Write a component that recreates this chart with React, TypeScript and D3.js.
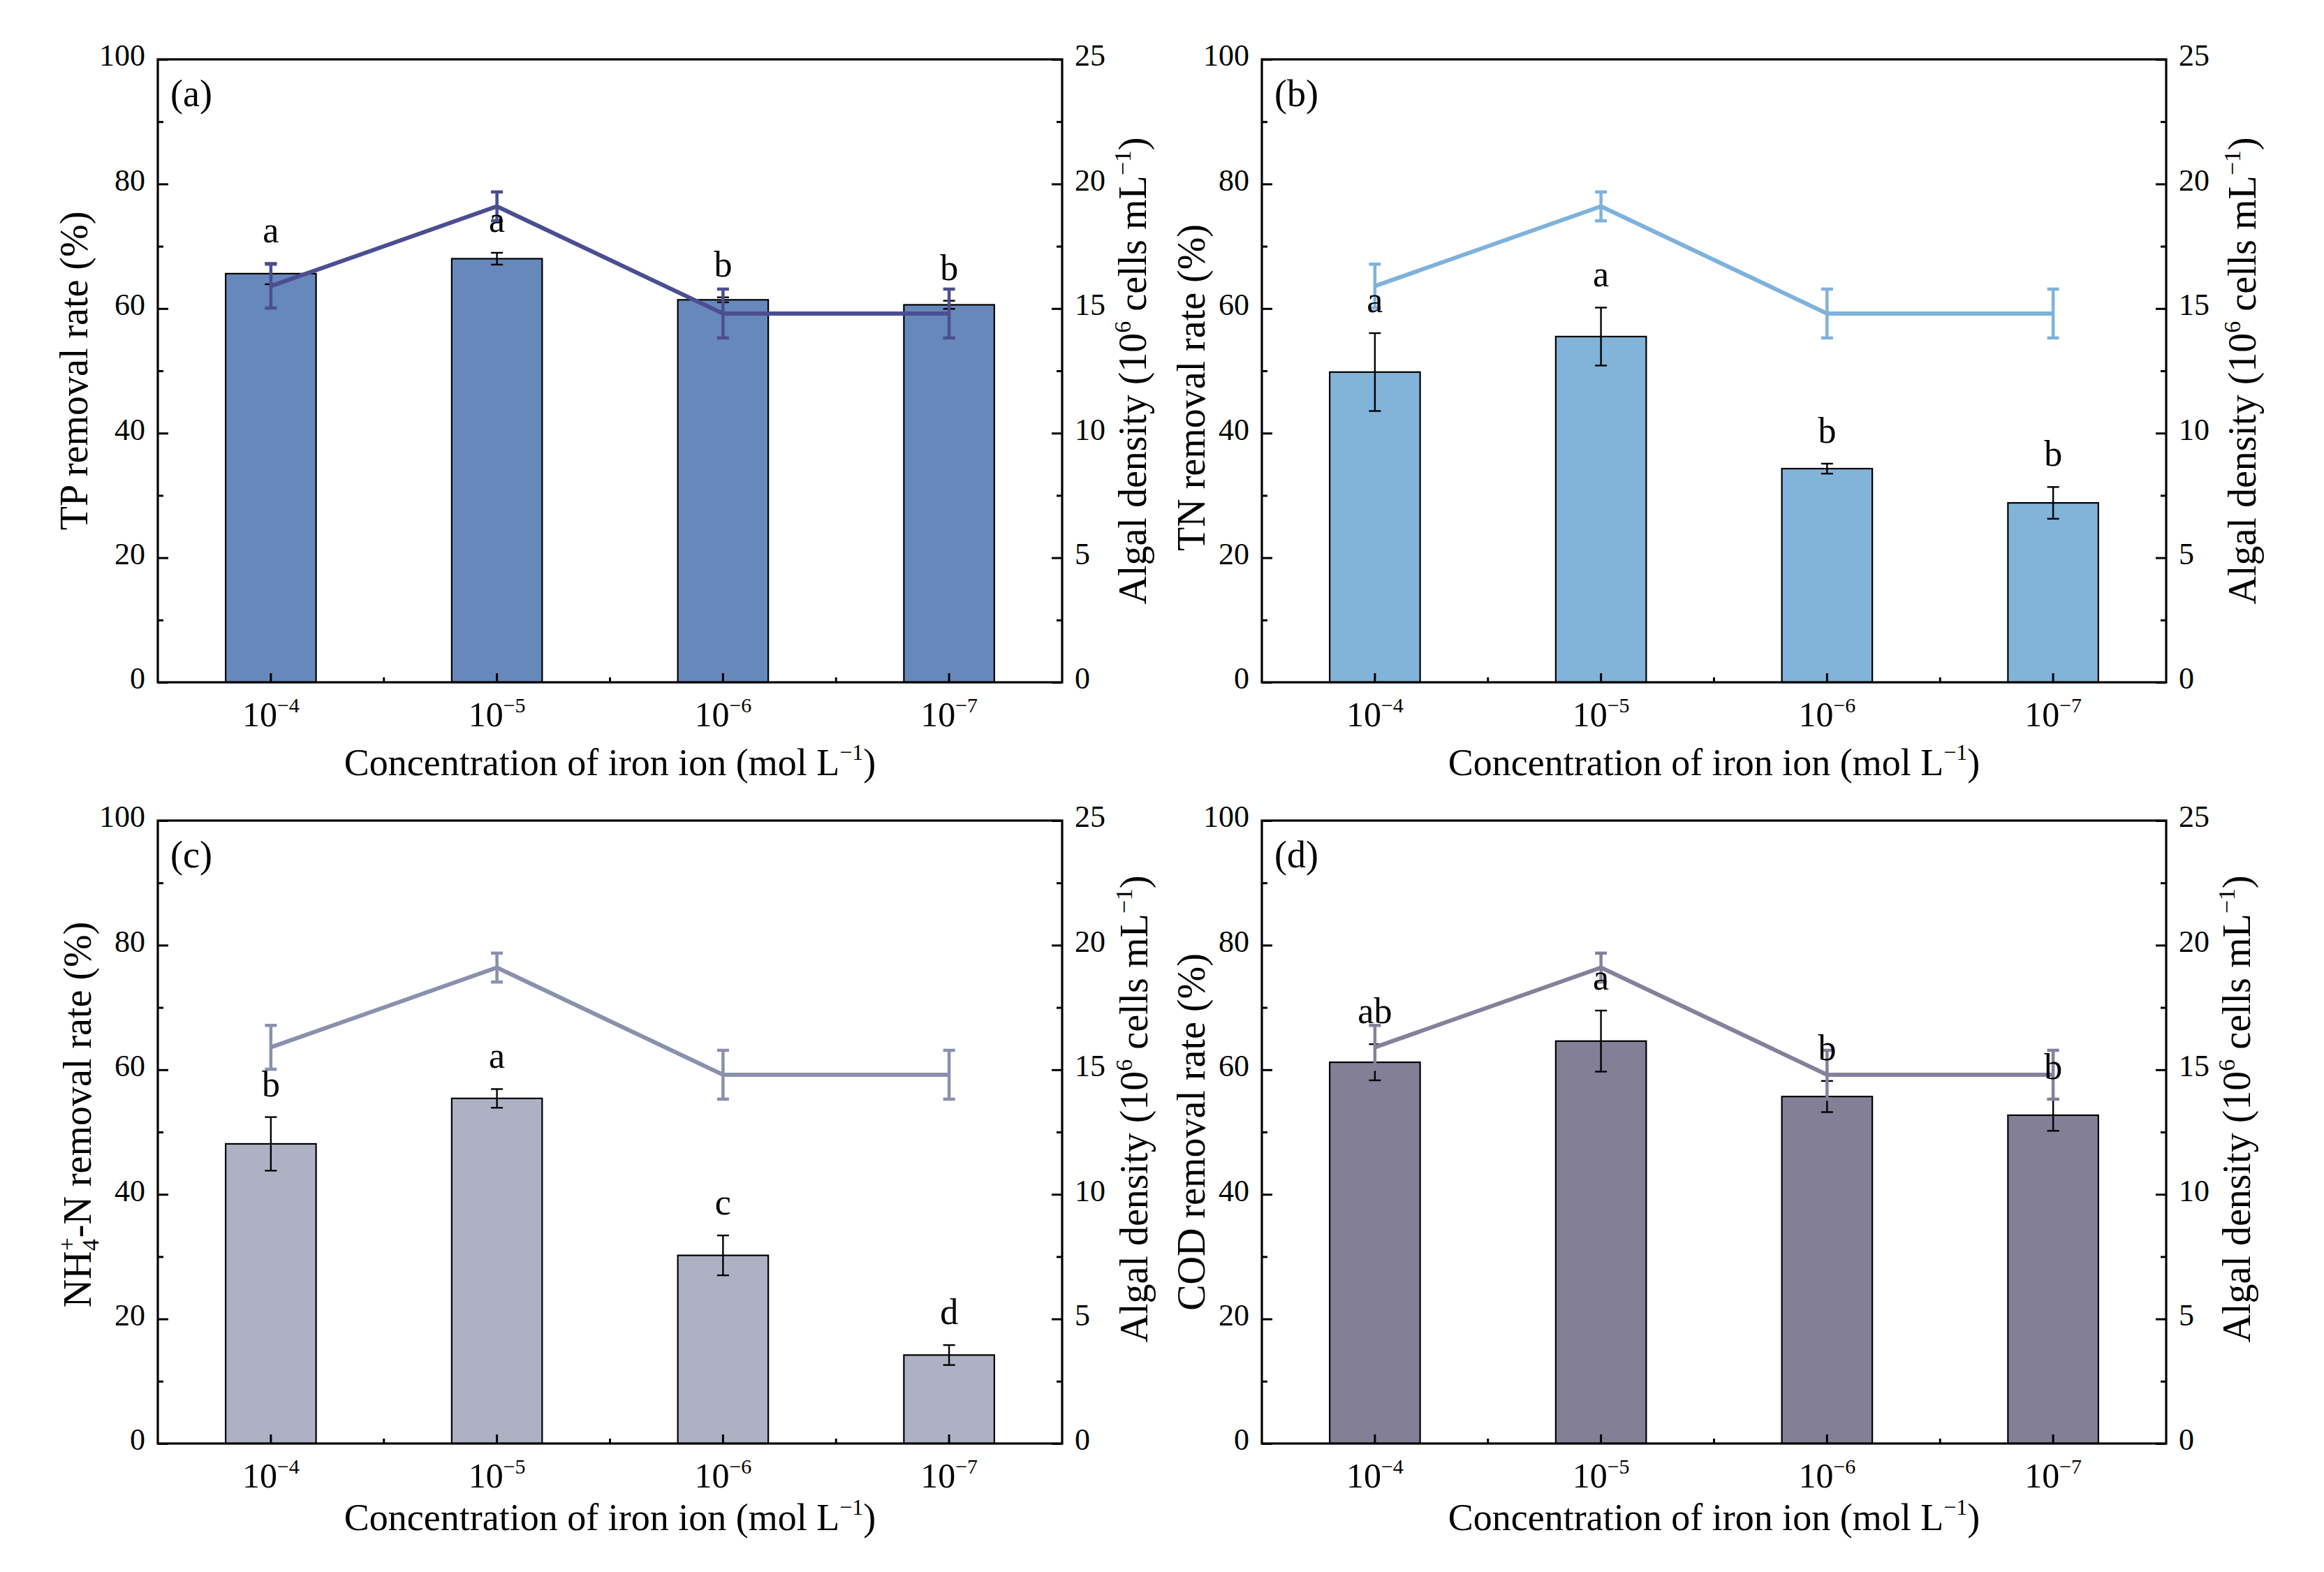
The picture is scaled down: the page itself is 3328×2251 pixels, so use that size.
import React, { useEffect, useRef } from 'react';
import * as d3 from 'd3';

// iron ion concentrations (exponent of 10, mol/L)
const exponents = ['−4', '−5', '−6', '−7'];

// removal rates (%) with error and significance letters
const tpRemoval = [65.6, 68.0, 61.4, 60.6];
const tpErr = [1.7, 0.95, 0.4, 0.65];
const tpLetters = ['a', 'a', 'b', 'b'];

const tnRemoval = [49.8, 55.5, 34.3, 28.8];
const tnErr = [6.25, 4.65, 0.8, 2.55];
const tnLetters = ['a', 'a', 'b', 'b'];

const nh4Removal = [48.1, 55.4, 30.2, 14.2];
const nh4Err = [4.3, 1.5, 3.2, 1.6];
const nh4Letters = ['b', 'a', 'c', 'd'];

const codRemoval = [61.2, 64.6, 55.7, 52.7];
const codErr = [2.9, 4.9, 2.5, 2.5];
const codLetters = ['ab', 'a', 'b', 'b'];

// algal density (10^6 cells/mL), same in every panel
const algalDensity = [15.9, 19.1, 14.8, 14.8];
const algalErr = [0.88, 0.58, 0.98, 0.98];

const leftTicks = [0, 20, 40, 60, 80, 100];
const leftMinor = [10, 30, 50, 70, 90];
const rightTicks = [0, 5, 10, 15, 20, 25];
const rightMinor = [2.5, 7.5, 12.5, 17.5, 22.5];

const W = 1295;
const H = 892;
const FONT = '"Liberation Serif", "Times New Roman", serif';

type Panel = {
    tag: string;
    x0: number;
    y0: number;
    values: number[];
    errs: number[];
    letters: string[];
    bar: string;
    line: string;
    title: string;
    leftX: number;
    leftDy: number;
    rightX: number;
    rightDy: number;
    xTitleY: number;
};

const panels: Panel[] = [
    { tag: '(a)', x0: 226, y0: 85, values: tpRemoval, errs: tpErr, letters: tpLetters, bar: '#6688BB', line: '#4B4E91', title: 'TP', leftX: -101, leftDy: 0, rightX: 120, rightDy: 0, xTitleY: 133 },
    { tag: '(b)', x0: 1807, y0: 85, values: tnRemoval, errs: tnErr, letters: tnLetters, bar: '#82B3D9', line: '#7EB2DC', title: 'TN', leftX: -82, leftDy: 24, rightX: 128, rightDy: 0, xTitleY: 133 },
    { tag: '(c)', x0: 226, y0: 1175, values: nh4Removal, errs: nh4Err, letters: nh4Letters, bar: '#AEB1C3', line: '#8991AD', title: 'NH4', leftX: -96, leftDy: -25, rightX: 122, rightDy: -33, xTitleY: 124 },
    { tag: '(d)', x0: 1807, y0: 1175, values: codRemoval, errs: codErr, letters: codLetters, bar: '#837F97', line: '#85819B', title: 'COD', leftX: -82, leftDy: 0, rightX: 120, rightDy: -33, xTitleY: 124 },
];

function drawPanel(svg: d3.Selection<SVGSVGElement, unknown, null, undefined>, p: Panel) {
    const g = svg.append('g').attr('transform', `translate(${p.x0},${p.y0})`);

    const x = d3.scaleBand().domain(exponents).range([0, W]).padding(0);
    const yL = d3.scaleLinear().domain([0, 100]).range([H, 0]);
    const yR = d3.scaleLinear().domain([0, 25]).range([H, 0]);
    const cx = (i: number) => x(exponents[i])! + x.bandwidth() / 2;
    const barW = x.bandwidth() * 0.4;
    const cap = 8.5;

    // bars
    g.selectAll('rect.bar')
        .data(p.values)
        .enter()
        .append('rect')
        .attr('x', (d, i) => cx(i) - barW / 2)
        .attr('y', (d) => yL(d))
        .attr('width', barW)
        .attr('height', (d) => H - yL(d))
        .attr('fill', p.bar)
        .attr('stroke', '#000')
        .attr('stroke-width', 2.2);

    // bar error bars
    p.values.forEach((v, i) => {
        const e = p.errs[i];
        const eg = g.append('g').attr('stroke', '#000').attr('stroke-width', 2.4);
        eg.append('line').attr('x1', cx(i)).attr('x2', cx(i)).attr('y1', yL(v - e)).attr('y2', yL(v + e));
        eg.append('line').attr('x1', cx(i) - cap).attr('x2', cx(i) + cap).attr('y1', yL(v - e)).attr('y2', yL(v - e));
        eg.append('line').attr('x1', cx(i) - cap).attr('x2', cx(i) + cap).attr('y1', yL(v + e)).attr('y2', yL(v + e));
    });

    // algal density line
    const line = d3.line<number>().x((d, i) => cx(i)).y((d) => yR(d));
    g.append('path')
        .datum(algalDensity)
        .attr('d', line)
        .attr('fill', 'none')
        .attr('stroke', p.line)
        .attr('stroke-width', 6)
        .attr('stroke-linejoin', 'miter');

    algalDensity.forEach((v, i) => {
        const e = algalErr[i];
        const eg = g.append('g').attr('stroke', p.line).attr('stroke-width', 4.5);
        eg.append('line').attr('x1', cx(i)).attr('x2', cx(i)).attr('y1', yR(v - e)).attr('y2', yR(v + e));
        eg.append('line').attr('x1', cx(i) - cap).attr('x2', cx(i) + cap).attr('y1', yR(v - e)).attr('y2', yR(v - e));
        eg.append('line').attr('x1', cx(i) - cap).attr('x2', cx(i) + cap).attr('y1', yR(v + e)).attr('y2', yR(v + e));
    });

    // significance letters
    g.selectAll('text.letter')
        .data(p.letters)
        .enter()
        .append('text')
        .attr('x', (d, i) => cx(i))
        .attr('y', (d, i) => yL(p.values[i] + p.errs[i]) - 30)
        .attr('text-anchor', 'middle')
        .attr('font-family', FONT)
        .attr('font-size', 52)
        .text((d) => d);

    // axes
    const styleAxis = (ax: d3.Selection<SVGGElement, unknown, null, undefined>) => {
        ax.attr('font-family', FONT).attr('font-size', 44);
        ax.select('.domain').remove();
        ax.selectAll('.tick line').attr('stroke', '#000').attr('stroke-width', 3);
        ax.selectAll('.tick text').attr('fill', '#000').attr('dy', '0.2em');
    };

    const left = g.append('g').call(d3.axisLeft(yL).tickValues(leftTicks).tickSize(-15).tickPadding(18));
    styleAxis(left);
    const leftM = g.append('g').call(d3.axisLeft(yL).tickValues(leftMinor).tickSize(-8).tickFormat(() => ''));
    styleAxis(leftM);

    const right = g.append('g').attr('transform', `translate(${W},0)`)
        .call(d3.axisRight(yR).tickValues(rightTicks).tickSize(-15).tickPadding(18));
    styleAxis(right);
    const rightM = g.append('g').attr('transform', `translate(${W},0)`)
        .call(d3.axisRight(yR).tickValues(rightMinor).tickSize(-8).tickFormat(() => ''));
    styleAxis(rightM);

    const bottom = g.append('g').attr('transform', `translate(0,${H})`)
        .call(d3.axisBottom(x).tickSize(-13).tickFormat(() => ''));
    styleAxis(bottom);
    // minor ticks between categories
    g.append('g')
        .selectAll('line')
        .data(exponents.slice(1))
        .enter()
        .append('line')
        .attr('x1', (d) => x(d)!)
        .attr('x2', (d) => x(d)!)
        .attr('y1', H)
        .attr('y2', H - 7)
        .attr('stroke', '#000')
        .attr('stroke-width', 3);

    g.append('rect')
        .attr('width', W)
        .attr('height', H)
        .attr('fill', 'none')
        .attr('stroke', '#000')
        .attr('stroke-width', 3.2);

    // x tick labels 10^n
    exponents.forEach((ex, i) => {
        const t = g.append('text')
            .attr('x', cx(i))
            .attr('y', H + 63)
            .attr('text-anchor', 'middle')
            .attr('font-family', FONT)
            .attr('font-size', 50);
        t.append('tspan').text('10');
        t.append('tspan').attr('font-size', 30).attr('dy', -20).text(ex);
    });

    // x title
    const xt = g.append('text')
        .attr('x', W / 2)
        .attr('y', H + p.xTitleY)
        .attr('text-anchor', 'middle')
        .attr('font-family', FONT)
        .attr('font-size', 54);
    xt.append('tspan').text('Concentration of iron ion (mol L');
    xt.append('tspan').attr('font-size', 32).attr('dy', -22).text('−1');
    xt.append('tspan').attr('dy', 22).text(')');

    // left title
    const lt = g.append('text')
        .attr('transform', `translate(${p.leftX},${H / 2 + p.leftDy}) rotate(-90)`)
        .attr('text-anchor', 'middle')
        .attr('font-family', FONT)
        .attr('font-size', 56);
    if (p.title === 'NH4') {
        lt.append('tspan').text('NH');
        lt.append('tspan').attr('font-size', 34).attr('dy', 11).text('4');
        lt.append('tspan').attr('font-size', 34).attr('dx', -17).attr('dy', -34).text('+');
        lt.append('tspan').attr('dy', 23).text('-N removal rate (%)');
    } else {
        lt.text(`${p.title} removal rate (%)`);
    }

    // right title
    const rt = g.append('text')
        .attr('transform', `translate(${W + p.rightX},${H / 2 + p.rightDy}) rotate(-90)`)
        .attr('text-anchor', 'middle')
        .attr('font-family', FONT)
        .attr('font-size', 56);
    rt.append('tspan').text('Algal density (10');
    rt.append('tspan').attr('font-size', 34).attr('dy', -22).text('6');
    rt.append('tspan').attr('dy', 22).text(' cells mL');
    rt.append('tspan').attr('font-size', 34).attr('dy', -22).text('−1');
    rt.append('tspan').attr('dy', 22).text(')');

    // panel tag
    g.append('text')
        .attr('x', 18)
        .attr('y', 67)
        .attr('font-family', FONT)
        .attr('font-size', 54)
        .text(p.tag);
}

const App: React.FC = () => {
    const svgRef = useRef<SVGSVGElement | null>(null);

    useEffect(() => {
        const svg = d3.select(svgRef.current!);
        svg.selectAll('*').remove();
        panels.forEach((p) => drawPanel(svg, p));
    }, []);

    return (
        <svg
            ref={svgRef}
            width={3328}
            height={2251}
            style={{ position: 'absolute', left: 0, top: 0, background: '#fff' }}
        />
    );
};

export default App;
